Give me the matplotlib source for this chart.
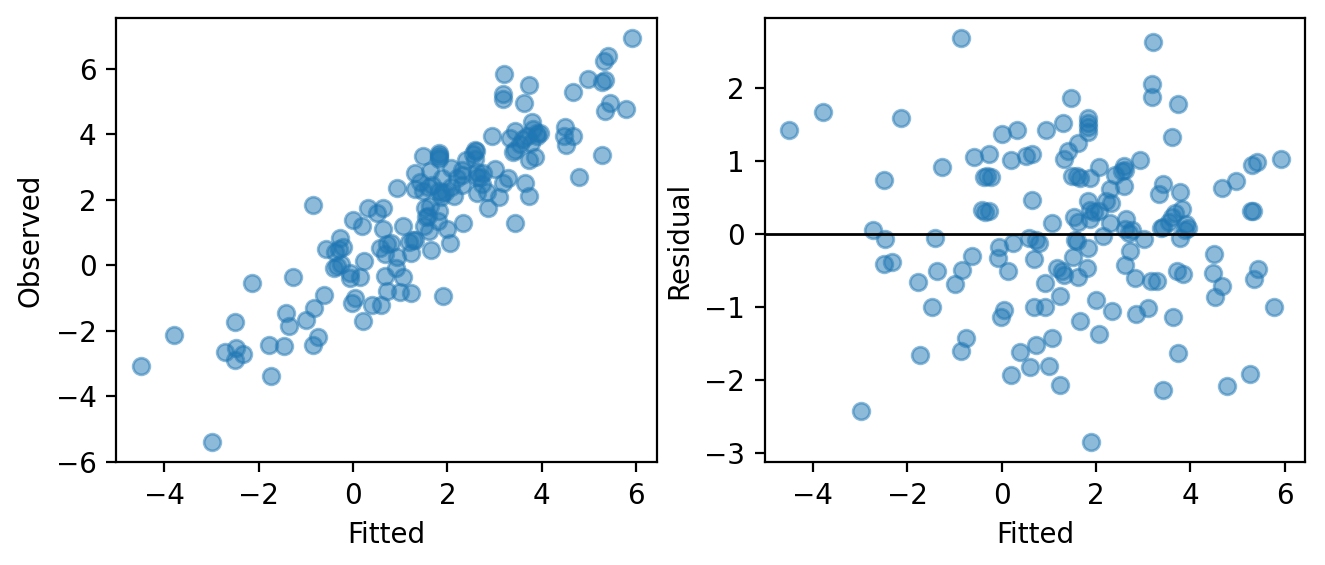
import numpy as np
import matplotlib
matplotlib.use("Agg")
from matplotlib import pyplot as plt

# fitted values and residuals
fitted = [
    -4.50, -3.79, -2.13, -0.85, -1.27, -2.49, -0.58, -0.27, 0.01, 0.32,
    0.20, 0.51, 0.64, -0.38, -0.30, -0.22, -0.41, -0.34, -0.26, 0.64,
    -2.72, -2.47, -1.41,
    3.20, 3.18, 3.18, 3.73, 3.62, 1.48, 1.83, 1.83, 1.83, 1.83,
    1.31, 0.94, 1.63, 1.41, 1.32, 2.94, 2.07, 2.59, 2.61, 2.55,
    2.40, 1.49, 1.60, 1.67, 1.88, 2.59, 2.30, 3.43, 3.33, 3.79,
    1.83, 2.21, 2.32, 2.07, 1.88, 1.95, 1.53, 1.63, 1.87, 1.06,
    2.30, 2.63, 2.62, 2.76, 2.69, 3.82, 3.68, 3.61, 3.54, 3.43,
    3.38, 3.90, 3.96, 3.89, 4.66, 4.97, 5.31, 5.41, 5.91, 5.28, 5.33,
    -0.06, 0.24, 0.58, 0.73, 0.80, -0.07, -0.62, 0.68, -0.83, 0.14,
    -0.99, 0.93, -2.49, -2.33, -1.78, -1.36, -1.47, 0.05, -0.01, -0.75,
    -0.85, -1.73, 0.40, 0.60, 0.21, -2.98, 0.72, 0.68, 0.92,
    1.55, 1.60, 2.14, 1.83, 3.01, 3.78, 2.73, 1.51, 2.62, 1.81,
    1.18, 1.28, 1.32, 1.62, 2.83, 3.17, 3.29, 3.72, 3.85, 4.49,
    4.47, 4.66, 4.52, 5.44, 5.34, 5.78, 1.23, 2.00, 2.34, 2.85,
    3.10, 3.64, 1.66, 2.06, 1.06, 3.73, 1.00, 1.23, 3.43, 4.78,
    5.27, 1.90,
]
residual = [
    1.43, 1.67, 1.59, 2.68, 0.92, 0.74, 1.06, 1.10, 1.37, 1.43,
    1.01, 1.07, 1.10, 0.78, 0.79, 0.78, 0.33, 0.30, 0.31, 0.47,
    0.06, -0.07, -0.05,
    2.63, 2.05, 1.88, 1.78, 1.33, 1.86, 1.59, 1.52, 1.46, 1.40,
    1.52, 1.42, 1.24, 1.13, 1.02, 1.01, 0.91, 0.93, 0.88, 0.86,
    0.81, 0.79, 0.80, 0.77, 0.77, 0.65, 0.61, 0.68, 0.55, 0.57,
    0.45, 0.45, 0.43, 0.32, 0.33, 0.30, 0.23, 0.17, 0.20, 0.15,
    0.15, 0.21, 0.07, 0.06, 0.01, 0.34, 0.28, 0.23, 0.17, 0.10,
    0.08, 0.13, 0.08, 0.06, 0.63, 0.72, 0.94, 0.98, 1.02, 0.31, 0.32,
    -0.18, -0.12, -0.06, -0.09, -0.12, -0.33, -0.30, -0.35, -0.49, -0.51,
    -0.68, -0.67, -0.41, -0.38, -0.66, -0.51, -1.00, -1.04, -1.14, -1.43,
    -1.60, -1.66, -1.62, -1.82, -1.93, -2.42, -1.52, -1.00, -1.00,
    -0.08, -0.10, -0.03, -0.19, -0.07, -0.06, -0.24, -0.32, -0.42, -0.46,
    -0.47, -0.51, -0.56, -0.59, -0.60, -0.65, -0.64, -0.51, -0.55, -0.28,
    -0.54, -0.71, -0.86, -0.48, -0.62, -1.00, -0.85, -0.90, -1.06, -1.10,
    -1.02, -1.14, -1.19, -1.37, -1.43, -1.63, -1.81, -2.07, -2.14, -2.08,
    -1.92, -2.85,
]

fitted = np.array(fitted)
residual = np.array(residual)
observed = fitted + residual

fig = plt.figure(figsize=(6.625, 2.825), dpi=200)
ax1 = fig.add_axes([0.0875, 0.182, 0.408, 0.786])
ax2 = fig.add_axes([0.577, 0.182, 0.408, 0.786])

ax1.scatter(fitted, observed, s=36, linewidths=1, alpha=0.5)
ax1.set_xlabel("Fitted")
ax1.set_ylabel("Observed")

ax2.scatter(fitted, residual, s=36, linewidths=1, alpha=0.5)
ax2.axhline(0, color="black", lw=1)
ax2.set_xlabel("Fitted")
ax2.set_ylabel("Residual")

fig.savefig("out.png", dpi=200)
